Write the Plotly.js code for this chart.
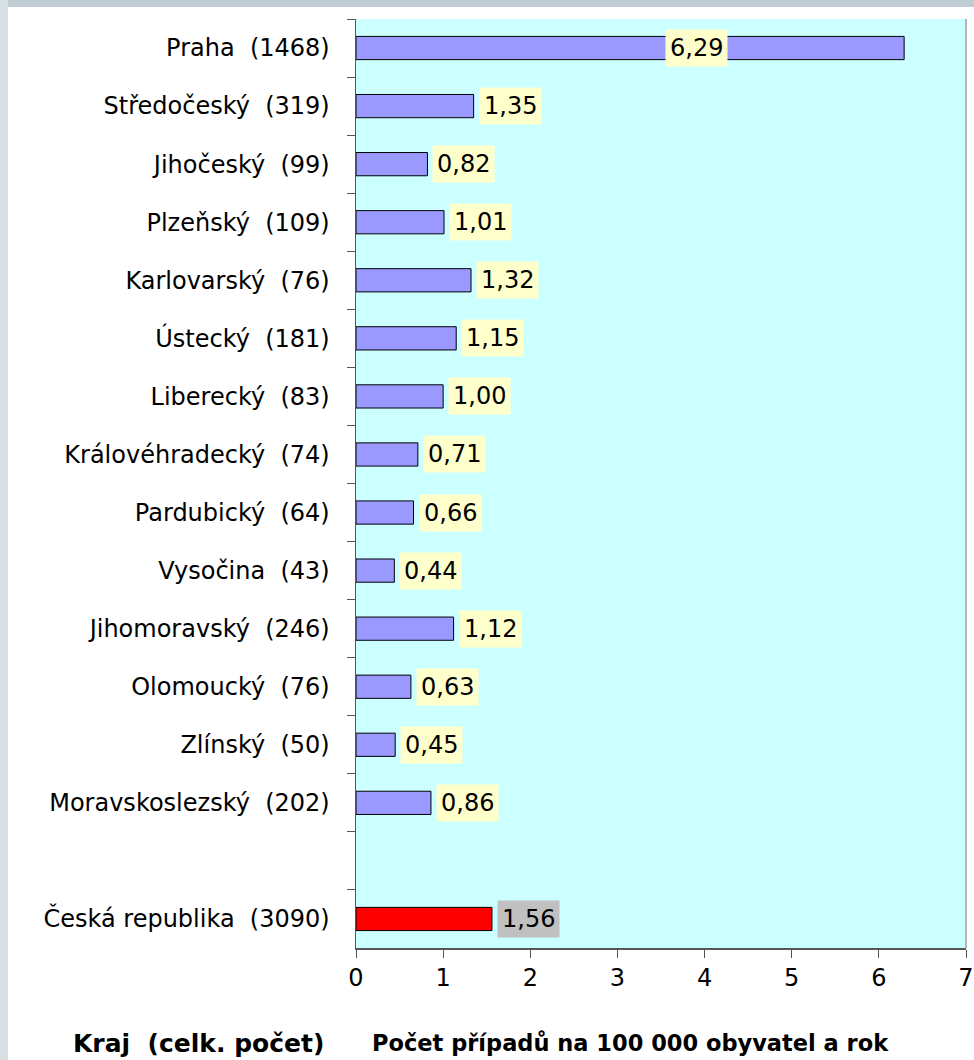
<!DOCTYPE html>
<html><head><meta charset="utf-8">
<script src="https://cdn.plot.ly/plotly-3.0.1.min.js"></script>
<style>html,body{margin:0;padding:0;background:#fff}#chart{width:974px;height:1060px}</style>
</head><body><div id="chart"></div>
<script>
const regions = ["Praha","Středočeský","Jihočeský","Plzeňský","Karlovarský","Ústecký","Liberecký","Královéhradecký","Pardubický","Vysočina","Jihomoravský","Olomoucký","Zlínský","Moravskoslezský"];
const counts = [1468,319,99,109,76,181,83,74,64,43,246,76,50,202];
const rates = [6.29,1.35,0.82,1.01,1.32,1.15,1.00,0.71,0.66,0.44,1.12,0.63,0.45,0.86];
const totalName = "Česká republika";
const totalCount = 3090;
const totalRate = 1.56;
const xTicks = [0,1,2,3,4,5,6,7];

const NB = "\u00a0\u00a0";
const regionLabels = regions.map((r,i)=> r + NB + "(" + counts[i] + ")");
const totalLabel = totalName + NB + "(" + totalCount + ")";
const gapLabel = "\u00a0";
const catOrder = regionLabels.concat([gapLabel, totalLabel]);
const fmt = v => v.toFixed(2).replace(".", ",");
const FONT = "'DejaVu Sans', Tahoma, sans-serif";

const traces = [
  {type:"bar", orientation:"h", x:rates, y:regionLabels, width:0.4,
   marker:{color:"#9999FF", line:{color:"#000", width:1}}, hoverinfo:"skip"},
  {type:"bar", orientation:"h", x:[totalRate], y:[totalLabel], width:0.4,
   marker:{color:"#FF0000", line:{color:"#000", width:1}}, hoverinfo:"skip"},
  {type:"bar", orientation:"h", x:[null], y:[gapLabel], hoverinfo:"skip", showlegend:false}
];

const anns = rates.map((v,i)=>{
  const inside = v > 5;
  return {x: inside ? v*0.622 : v, y: regionLabels[i], xref:"x", yref:"y",
    text: fmt(v), showarrow:false, xanchor: inside ? "center" : "left",
    xshift: inside ? 0 : 5, bgcolor:"#FFFFCC", borderpad:4,
    font:{family:FONT, size:24, color:"#000"}};
});
anns.push({x: totalRate, y: totalLabel, xref:"x", yref:"y", text: fmt(totalRate),
  showarrow:false, xanchor:"left", xshift:5, bgcolor:"#C0C0C0", borderpad:4,
  font:{family:FONT, size:24, color:"#000"}});
anns.push({x:198, y:1043, xref:"paper", yref:"paper", text:"<b>Kraj" + NB + "(celk. počet)</b>",
  showarrow:false, xanchor:"center", font:{family:FONT, size:25, color:"#000"}});
anns.push({x:630, y:1043, xref:"paper", yref:"paper", text:"<b>Počet případů na 100 000 obyvatel a rok</b>",
  showarrow:false, xanchor:"center", font:{family:FONT, size:22.5, color:"#000"}});

const W=974, H=1060, L=356, R=8, T=19, B=112;
const pw=W-L-R, ph=H-T-B;
anns.forEach(a=>{ if(a.xref==="paper"){ a.x=(a.x-L)/pw; a.y=(H-B-a.y)/ph; a.yanchor="middle"; }});

const layout = {
  width:W, height:H, margin:{l:L, r:R, t:T, b:B},
  paper_bgcolor:"#FFFFFF", plot_bgcolor:"#CCFFFF", showlegend:false, bargap:0.6,
  font:{family:FONT, size:24, color:"#000"},
  xaxis:{range:[0,7], tickvals:xTicks, ticktext:xTicks.map(String), ticks:"outside", ticklen:8,
    tickcolor:"#555", showline:true, linecolor:"#555", linewidth:1.5, showgrid:false, zeroline:false,
    tickfont:{family:FONT, size:24}, fixedrange:true},
  yaxis:{type:"category", categoryorder:"array", categoryarray:catOrder, autorange:"reversed",
    tickson:"boundaries", ticks:"outside", ticklen:8, tickcolor:"#555", showline:true, linecolor:"#555",
    linewidth:1.5, showgrid:false, zeroline:false, tickfont:{family:FONT, size:24}, ticklabelstandoff:20},
  annotations: anns,
  shapes:[
    {type:"rect", xref:"paper", yref:"paper", x0:1, x1:1, y0:0, y1:1, line:{color:"#A0A0A0", width:1}},
    {type:"rect", xref:"paper", yref:"paper", x0:-L/pw, x1:(W-L)/pw, y0:(H-B)/ph, y1:(H-B-7)/ph, fillcolor:"#C0CCD3", line:{width:0}, layer:"below"},
    {type:"rect", xref:"paper", yref:"paper", x0:-L/pw, x1:(8-L)/pw, y0:(H-B)/ph, y1:-B/ph, fillcolor:"#D8DFE3", line:{width:0}, layer:"below"}
  ]
};
Plotly.newPlot("chart", traces, layout, {staticPlot:true});
</script></body></html>
